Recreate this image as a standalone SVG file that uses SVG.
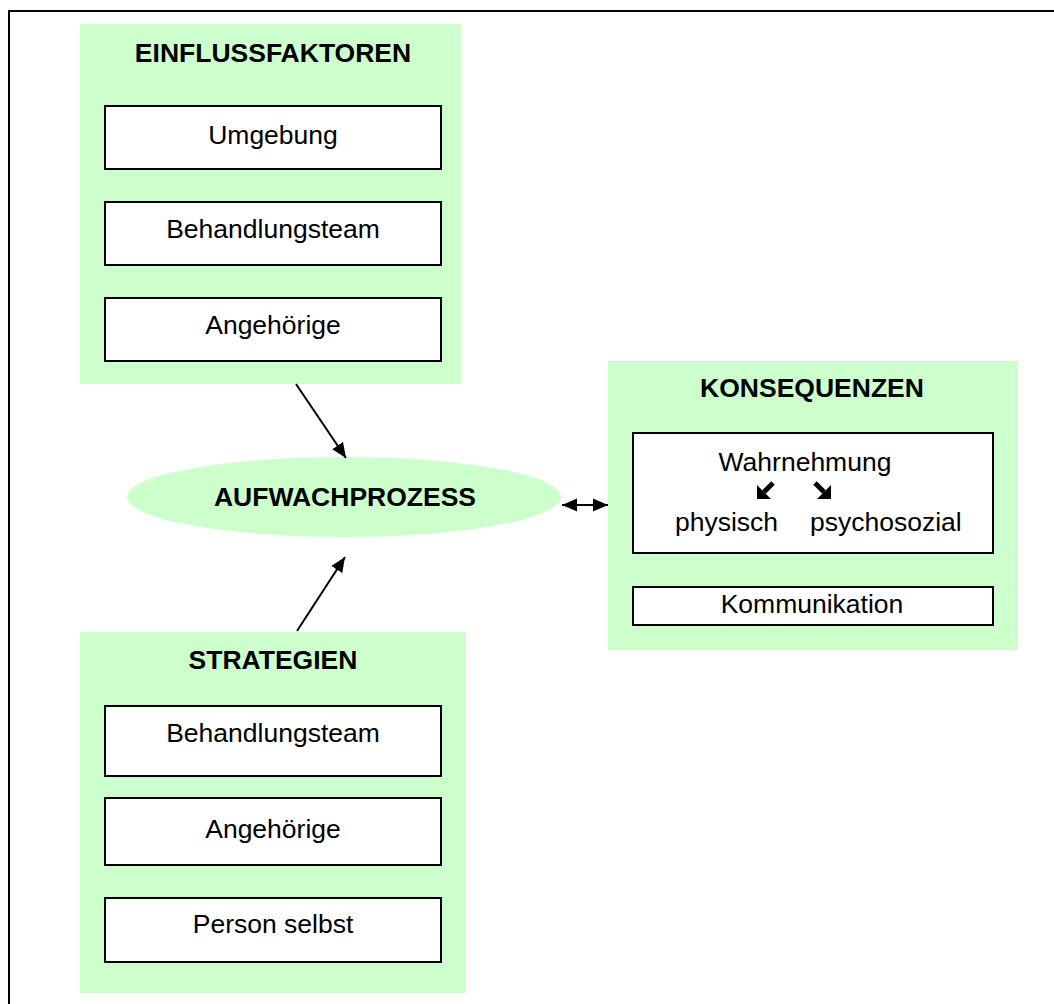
<svg xmlns="http://www.w3.org/2000/svg" width="1054" height="1004" viewBox="0 0 1054 1004">
<style>
  .panel { fill: #CCFFCC; stroke: none; }
  .box { fill: #FFFFFF; stroke: #000000; stroke-width: 2; }
  .t { font-family: "Liberation Sans", Arial, sans-serif; font-size: 26.5px; fill: #000000; }
  .title { font-family: "Liberation Sans", Arial, sans-serif; font-size: 26.5px; font-weight: bold; fill: #000000; }
  .mid { text-anchor: middle; }
  .conn { stroke: #000000; stroke-width: 2; fill: none; }
</style>
<defs>
  <marker id="ah" markerUnits="userSpaceOnUse" markerWidth="16" markerHeight="14" refX="15" refY="7" orient="auto-start-reverse">
    <path d="M0,0.5 L15,7 L0,13.5 z" fill="#000000"/>
  </marker>
</defs>
<rect x="0" y="0" width="1054" height="1004" fill="#FFFFFF"/>
<rect id="frame" x="9" y="11" width="1070" height="1020" fill="none" stroke="#000000" stroke-width="2"/>

<g id="einflussfaktoren">
  <rect class="panel" x="80" y="24" width="381" height="360"/>
  <text class="title mid" x="273" y="62">EINFLUSSFAKTOREN</text>
  <g id="e-umgebung">
    <rect class="box" x="105" y="106" width="336" height="63"/>
    <text class="t mid" x="273" y="144">Umgebung</text>
  </g>
  <g id="e-behandlungsteam">
    <rect class="box" x="105" y="202" width="336" height="63"/>
    <text class="t mid" x="273" y="238">Behandlungsteam</text>
  </g>
  <g id="e-angehoerige">
    <rect class="box" x="105" y="298" width="336" height="63"/>
    <text class="t mid" x="273" y="334">Angehörige</text>
  </g>
</g>

<g id="aufwachprozess">
  <ellipse cx="344" cy="497" rx="217" ry="40" fill="#CCFFCC"/>
  <text class="title mid" x="345" y="506">AUFWACHPROZESS</text>
</g>

<g id="konsequenzen">
  <rect class="panel" x="608" y="361" width="410" height="289"/>
  <text class="title mid" x="812" y="397">KONSEQUENZEN</text>
  <g id="k-wahrnehmung">
    <rect class="box" x="633" y="433" width="360" height="120"/>
    <text class="t mid" x="805" y="471">Wahrnehmung</text>
    <polygon points="757,485 757,499 771,499" fill="#000000"/>
    <line x1="764" y1="492" x2="773" y2="483" stroke="#000000" stroke-width="5"/>
    <polygon points="831,485 831,499 817,499" fill="#000000"/>
    <line x1="824" y1="492" x2="815" y2="483" stroke="#000000" stroke-width="5"/>
    <text class="t" x="675" y="531">physisch</text>
    <text class="t" x="810" y="531">psychosozial</text>
  </g>
  <g id="k-kommunikation">
    <rect class="box" x="633" y="587" width="360" height="38"/>
    <text class="t mid" x="812" y="613">Kommunikation</text>
  </g>
</g>

<g id="strategien">
  <rect class="panel" x="80" y="632" width="386" height="361"/>
  <text class="title mid" x="273" y="669">STRATEGIEN</text>
  <g id="s-behandlungsteam">
    <rect class="box" x="105" y="706" width="336" height="70"/>
    <text class="t mid" x="273" y="742">Behandlungsteam</text>
  </g>
  <g id="s-angehoerige">
    <rect class="box" x="105" y="798" width="336" height="67"/>
    <text class="t mid" x="273" y="838">Angehörige</text>
  </g>
  <g id="s-person">
    <rect class="box" x="105" y="898" width="336" height="64"/>
    <text class="t mid" x="273" y="933">Person selbst</text>
  </g>
</g>

<g id="connectors">
  <line class="conn" x1="296" y1="384" x2="346" y2="458" marker-end="url(#ah)"/>
  <line class="conn" x1="297" y1="631" x2="345" y2="557" marker-end="url(#ah)"/>
  <line class="conn" x1="562" y1="505" x2="608" y2="505" marker-start="url(#ah)" marker-end="url(#ah)"/>
</g>
</svg>
